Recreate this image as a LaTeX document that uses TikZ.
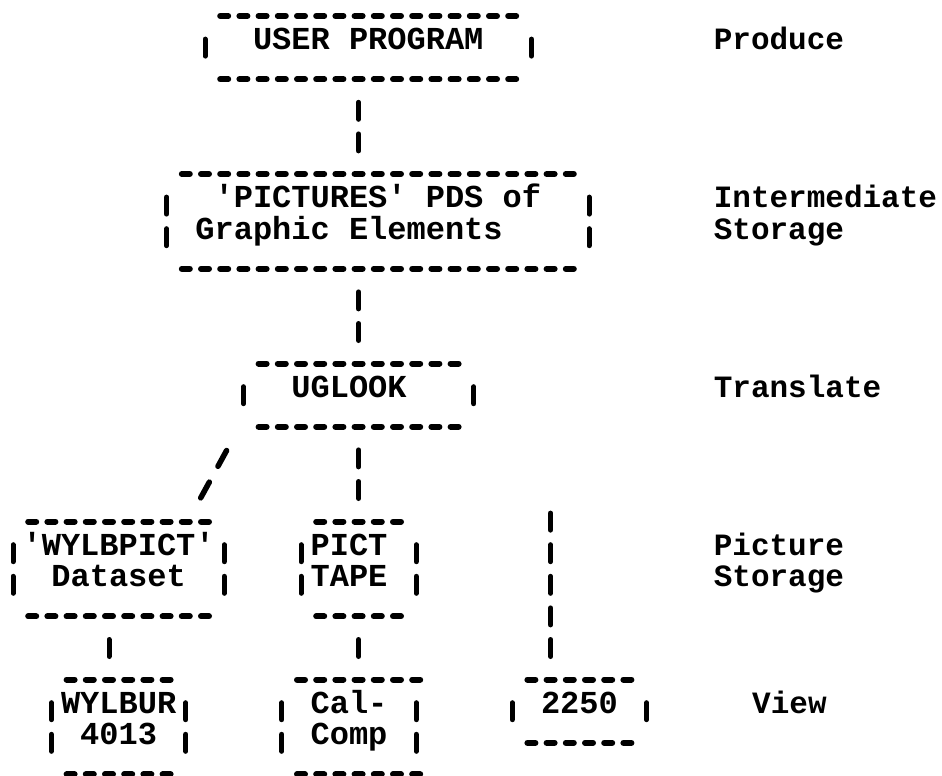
\documentclass[tikz,border=0pt]{standalone}
\usepackage{fontspec}
\setmonofont{Liberation Mono}
\tikzset{
  txt/.style={anchor=mid west, inner sep=0pt, outer sep=0pt,
    font=\ttfamily\bfseries\fontsize{32pt}{31.6pt}\selectfont, text=black},
  lbl/.style={txt, font=\ttfamily\bfseries\fontsize{31pt}{31.6pt}\selectfont},
  boxnode/.style={rectangle, draw=none, inner sep=0pt, outer sep=0pt},
  hdash/.style={line width=6pt, line cap=round, dash pattern=on 8pt off 11.2pt,
    shorten <=15.2pt, shorten >=15.2pt},
  vconn/.style={line width=5pt, line cap=round, dash pattern=on 17pt off 14.6pt,
    shorten <=23.1pt, shorten >=23.1pt},
  slashconn/.style={line width=5.5pt, line cap=round, dash pattern=on 18pt off 18pt},
}
% #1 name, #2 left col, #3 right col, #4 top row, #5 bottom row, #6 extra style for dashes
\newcommand\asciibox[6]{%
  \node[boxnode, minimum width={(#3-#2)*19.2pt}, minimum height={(#5-#4)*31.6pt}]
    (#1) at ({(#2+#3)/2},{(#4+#5)/2}) {};
  \draw[hdash,#6] (#1.north west) -- (#1.north east);
  \draw[hdash,#6] (#1.south west) -- (#1.south east);
  \draw[vconn] (#1.north west) -- (#1.south west);
  \draw[vconn] (#1.north east) -- (#1.south east);
}
\begin{document}
\begin{tikzpicture}[x=19.2pt, y=-31.6pt]
  \fill[white] (-0.6771,-0.5063) rectangle (48.3854,24.0506);
  \useasboundingbox (-0.6771,-0.5063) rectangle (48.3854,24.0506);

  % boxes
  \asciibox{bA}{10}{27}{0}{2}{}
  \asciibox{bB}{8}{30}{5}{8}{}
  \asciibox{bC}{12}{24}{11}{13}{}
  \asciibox{bD}{0}{11}{16}{19}{}
  \asciibox{bE}{15}{21}{16}{19}{}
  \asciibox{bF}{2}{9}{21}{24}{}
  \asciibox{bG}{14}{21}{21}{24}{shorten >=-4pt}
  \asciibox{bH}{26}{33}{21}{23}{}

  % box texts
  \node[txt] (tA)  at (12.5,1)  {USER PROGRAM};
  \node[txt] (tB1) at (10.5,6)  {'PICTURES' PDS of};
  \node[txt] (tB2) at (9.5,7)   {Graphic Elements};
  \node[txt] (tC)  at (14.5,12) {UGLOOK};
  \node[txt] (tD1) at (0.5,17)  {'WYLBPICT'};
  \node[txt] (tD2) at (2,18)    {Dataset};
  \node[txt] (tE1) at (15.5,17) {PICT};
  \node[txt] (tE2) at (15.5,18) {TAPE};
  \node[txt] (tF1) at (2.5,22)  {WYLBUR};
  \node[txt] (tF2) at (3.5,23)  {4013};
  \node[txt] (tG1) at (15.5,22) {Cal-};
  \node[txt] (tG2) at (15.5,23) {Comp};
  \node[txt] (tH)  at (27.5,22) {2250};

  % stage labels
  \node[lbl] (lProd)  at (36.5,1)  {Produce};
  \node[lbl] (lInt1)  at (36.5,6)  {Intermediate};
  \node[lbl] (lInt2)  at (36.5,7)  {Storage};
  \node[lbl] (lTrans) at (36.5,12) {Translate};
  \node[lbl] (lPic1)  at (36.5,17) {Picture};
  \node[lbl] (lPic2)  at (36.5,18) {Storage};
  \node[lbl] (lView)  at (38.5,22) {View};

  % connectors
  \coordinate (x18) at (18,0);
  \coordinate (x5) at (5,0);
  \coordinate (x28) at (28,0);
  \coordinate (top2250) at (28,15);
  \coordinate (s1) at (11.125,13.75);
  \coordinate (s2) at (9.775,15.25);
  \draw[vconn] (bA.south -| x18) -- (bB.north -| x18);
  \draw[vconn] (bB.south -| x18) -- (bC.north -| x18);
  \draw[vconn] (bC.south -| x18) -- (bE.north -| x18);
  \draw[slashconn] (s1) -- (s2);
  \draw[vconn] (bD.south -| x5) -- (bF.north -| x5);
  \draw[vconn] (bE.south -| x18) -- (bG.north -| x18);
  \draw[vconn] (top2250) -- (bH.north -| x28);
\end{tikzpicture}
\end{document}
